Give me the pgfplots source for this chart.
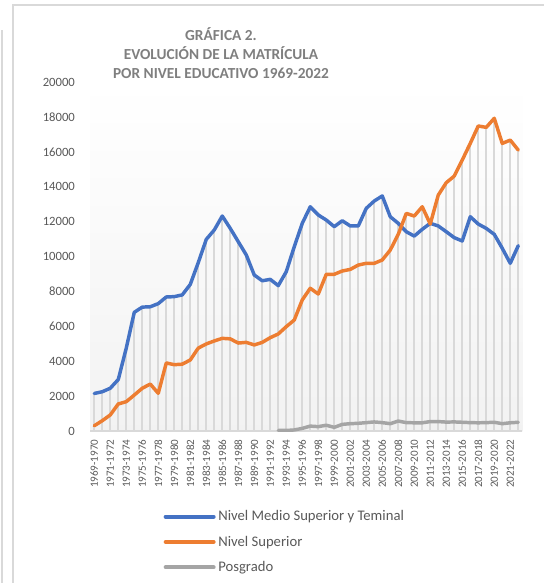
\documentclass[border=0pt]{standalone}
\usepackage{pgfplots}
\pgfplotsset{compat=1.18}
\usepackage{pgfplotstable}
\usepackage{fontspec}
\setmainfont{Carlito}
\definecolor{cblue}{HTML}{4472C4}
\definecolor{corange}{HTML}{ED7D31}
\definecolor{cgray}{HTML}{A5A5A5}
\definecolor{txt}{HTML}{595959}
\definecolor{ttl}{HTML}{7F7F7F}
\definecolor{drop}{HTML}{D9D9D9}

% i, medio superior y terminal, superior, maximo (lineas verticales)
\pgfplotstableread{
i medio sup top
0 2150 300 2150
1 2250 590 2250
2 2450 920 2450
3 2950 1550 2950
4 4750 1680 4750
5 6800 2060 6800
6 7100 2450 7100
7 7120 2690 7120
8 7300 2160 7300
9 7680 3900 7680
10 7700 3800 7700
11 7800 3830 7800
12 8400 4070 8400
13 9650 4750 9650
14 10980 4990 10980
15 11520 5160 11520
16 12320 5310 12320
17 11610 5280 11610
18 10850 5040 10850
19 10090 5080 10090
20 8940 4930 8940
21 8610 5080 8610
22 8690 5350 8690
23 8330 5560 8330
24 9130 5980 9130
25 10560 6360 10560
26 11900 7510 11900
27 12850 8180 12850
28 12380 7850 12380
29 12090 8980 12090
30 11710 8980 11710
31 12050 9170 12050
32 11750 9260 11750
33 11750 9510 11750
34 12760 9610 12760
35 13180 9610 13180
36 13470 9800 13470
37 12280 10370 12280
38 11900 11270 11900
39 11420 12470 12470
40 11170 12320 12320
41 11560 12850 12850
42 11900 11860 11900
43 11750 13520 13520
44 11420 14230 14230
45 11080 14610 14610
46 10890 15530 15530
47 12280 16480 16480
48 11860 17480 17480
49 11610 17400 17400
50 11270 17920 17920
51 10470 16480 16480
52 9610 16670 16670
53 10620 16100 16100
}\datos

\pgfplotstableread{
i posg
23 30
24 30
25 60
26 150
27 280
28 250
29 330
30 210
31 380
32 420
33 440
34 480
35 520
36 480
37 420
38 570
39 480
40 470
41 470
42 540
43 540
44 510
45 520
46 500
47 480
48 470
49 480
50 500
51 420
52 470
53 500
}\posgrado

\begin{document}
\begin{tikzpicture}
\path[use as bounding box] (0,0) rectangle (408pt,437.25pt);
% marco del grafico
\draw[drop, line width=0.8pt] (9.75pt,0) -- (9.75pt,433.5pt) -- (408pt,433.5pt);
\draw[drop, line width=0.8pt] (1.5pt,0) -- (1.5pt,414.75pt);

\begin{axis}[
    at={(67.7pt,114pt)}, anchor=south west,
    scale only axis,
    width=324pt, height=261.75pt,
    xmin=-0.5, xmax=53.5,
    ymin=0, ymax=20000,
    ytick={0,2000,...,20000},
    xtick={0,2,...,52},
    xticklabels={1969-1970,1971-1972,1973-1974,1975-1976,1977-1978,1979-1980,1981-1982,1983-1984,1985-1986,1987-1988,1989-1990,1991-1992,1993-1994,1995-1996,1997-1998,1999-2000,2001-2002,2003-2004,2005-2006,2007-2008,2009-2010,2011-2012,2013-2014,2015-2016,2017-2018,2019-2020,2021-2022},
    scaled y ticks=false,
    /pgf/number format/assume math mode=true,
    yticklabel={\pgfmathprintnumber[fixed,1000 sep={}]{\tick}},
    major tick length=0pt,
    axis lines*=left,
    x axis line style={drop, line width=1pt},
    y axis line style={draw=none},
    tick label style={text=txt},
    yticklabel style={font=\fontsize{9.5}{11}\selectfont, xshift=-8pt},
    xticklabel style={font=\fontsize{8.3}{10}\selectfont, rotate=90, anchor=east, xshift=-3pt},
    axis background/.style={shade, top color=white, bottom color=gray!10},
    legend style={at={(0.16,-0.212)}, anchor=north west, draw=none, fill=none,
        font=\fontsize{11}{13}\selectfont, text=txt, row sep=5.8pt,
        legend cell align=left},
    legend image code/.code={\draw[#1, line width=3pt, line cap=round] (0pt,0pt) -- (36pt,0pt);},
  ]
  % lineas verticales hasta la serie mas alta
  \addplot[ycomb, drop, line width=1.3pt, forget plot] table[x=i, y=top] {\datos};

  \addplot[cblue, line width=2.6pt, line join=round, line cap=round] table[x=i, y=medio] {\datos};
  \addlegendentry{Nivel Medio Superior y Teminal}
  \addplot[corange, line width=2.6pt, line join=round, line cap=round] table[x=i, y=sup] {\datos};
  \addlegendentry{Nivel Superior}
  \addplot[cgray, line width=2.6pt, line join=round, line cap=round] table[x=i, y=posg] {\posgrado};
  \addlegendentry{Posgrado}
\end{axis}

\node[align=center, text=ttl, font=\fontsize{11.5}{14.25}\selectfont\bfseries]
  at (165.75pt,397.5pt) {GRÁFICA 2.\\EVOLUCIÓN DE LA MATRÍCULA\\POR NIVEL EDUCATIVO 1969-2022};
\end{tikzpicture}
\end{document}
